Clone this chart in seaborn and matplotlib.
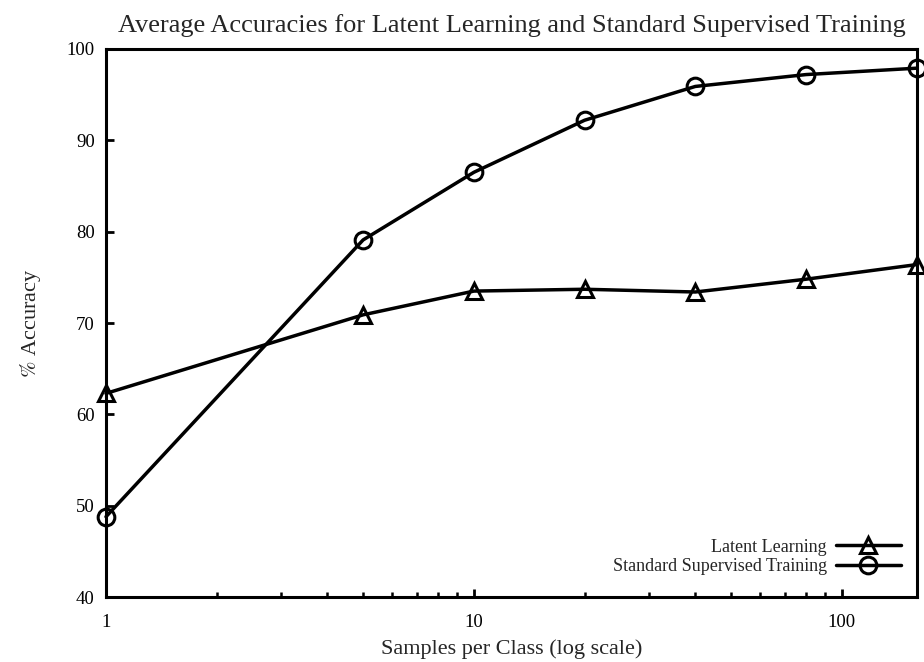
import matplotlib
matplotlib.use('Agg')
import matplotlib.pyplot as plt
import numpy as np
import pandas as pd
import seaborn as sns

# data
samples = [1, 5, 10, 20, 40, 80, 160]
latent_acc = [62.3, 70.9, 73.5, 73.7, 73.4, 74.8, 76.4]
standard_acc = [48.8, 79.1, 86.5, 92.2, 95.9, 97.2, 97.9]

sns.set_style('white')
plt.rcParams['font.family'] = ['Liberation Serif', 'DejaVu Serif']
plt.rcParams['mathtext.fontset'] = 'stix'

df_latent = pd.DataFrame({'samples': samples, 'acc': latent_acc})
df_standard = pd.DataFrame({'samples': samples, 'acc': standard_acc})

fig = plt.figure(figsize=(9.24, 6.62), dpi=100)
ax = fig.add_axes([0.1147, 0.098, 0.8775, 0.828])

sns.lineplot(data=df_latent, x='samples', y='acc', ax=ax
             , color='black', linewidth=2.5
             , marker='^', markersize=11, markerfacecolor='none'
             , markeredgecolor='black', markeredgewidth=2.2
             , label='Latent Learning', clip_on=False, zorder=5)
sns.lineplot(data=df_standard, x='samples', y='acc', ax=ax
             , color='black', linewidth=2.5
             , marker='o', markersize=12, markerfacecolor='none'
             , markeredgecolor='black', markeredgewidth=2.2
             , label='Standard Supervised Training', clip_on=False, zorder=5)

ax.set_xscale('log')
ax.set_xlim(1, 160)
ax.set_ylim(40, 100)
ax.set_yticks(np.arange(40, 101, 10))
ax.set_xticks([1, 10, 100])
ax.set_xticklabels(['1', '10', '100'])

for s in ax.spines.values():
    s.set_linewidth(2.2)
    s.set_color('black')

ax.tick_params(axis='both', which='both', direction='in', labelsize=13.5,
               bottom=True, left=True, top=False, right=False, colors='black')
ax.tick_params(axis='both', which='major', length=6, width=2.0, pad=8)
ax.tick_params(axis='x', which='major', pad=12)
ax.tick_params(axis='x', which='minor', length=3.5, width=1.8)

ax.set_xlabel('Samples per Class (log scale)', fontsize=16, labelpad=6)
ax.set_ylabel(r'$\%$ Accuracy', fontsize=16, labelpad=17)
ax.set_title('Average Accuracies for Latent Learning and Standard Supervised Training',
             fontsize=19, pad=12, x=0.5)

leg = ax.legend(loc='lower right', bbox_to_anchor=(1.007, 0.0), frameon=False,
                markerfirst=False, fontsize=13, handlelength=3.6,
                handletextpad=0.5, labelspacing=0.15, borderaxespad=0.8)

fig.savefig('out.png', dpi=100)
